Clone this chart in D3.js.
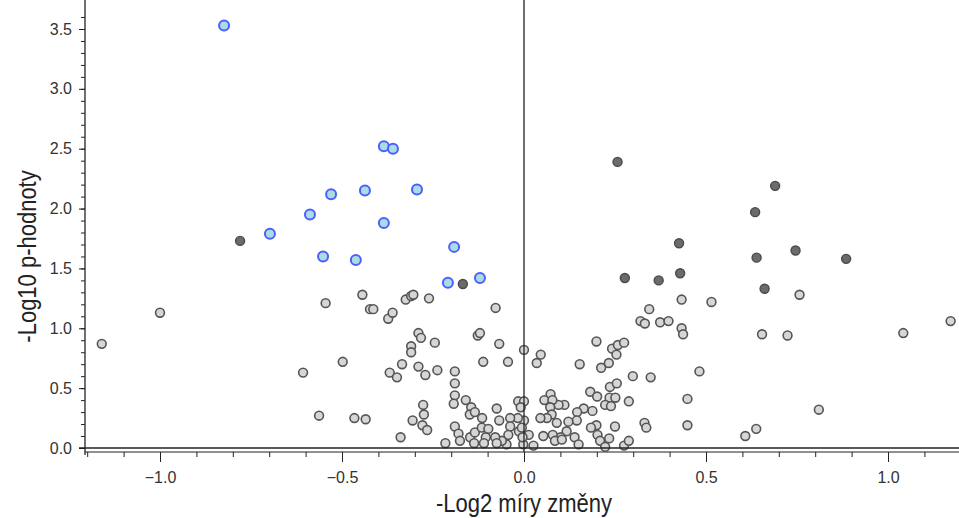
<!DOCTYPE html>
<html>
<head>
<meta charset="utf-8">
<script src="https://cdn.jsdelivr.net/npm/d3@7"></script>
<style>
  body { margin: 0; background: #fff; }
  svg { display: block; font-family: "Liberation Sans", Arial, sans-serif; }
</style>
</head>
<body>
<svg width="959" height="518"></svg>
<script>
// blue = significant, dark = borderline, grey = the rest
var blueX = [-0.824, -0.385, -0.36, -0.53, -0.437, -0.294, -0.588, -0.385, -0.698, -0.192, -0.552, -0.462, -0.209, -0.121];
var blueY = [3.53, 2.52, 2.50, 2.12, 2.15, 2.16, 1.95, 1.88, 1.79, 1.68, 1.60, 1.57, 1.38, 1.42];

var darkX = [-0.780, -0.168, 0.257, 0.690, 0.635, 0.426, 0.639, 0.746, 0.885, 0.277, 0.370, 0.429, 0.661];
var darkY = [1.73, 1.37, 2.39, 2.19, 1.97, 1.71, 1.59, 1.65, 1.58, 1.42, 1.40, 1.46, 1.33];

var greyX = [
  0.433, 0.515, 0.344, 0.32, 0.332, 0.374, 0.397, 0.433, 0.437, 0.757, 0.654, 0.724, 1.042, 1.172,
  -0.068, 0.0, -0.044, 0.046, 0.035, 0.199, 0.153, 0.242, 0.258, 0.275, 0.254, 0.212, 0.233, 0.299,
  0.348, 0.482, 0.236, 0.255, 0.182, 0.201, 0.235, 0.251, 0.223, 0.239, 0.288, 0.449, 0.810, 0.449,
  0.608, 0.638, 0.331, 0.336, 0.25, 0.199, 0.184, 0.202, 0.234, 0.209, 0.223, 0.275, 0.288, 0.139,
  0.150, 0.164, 0.146, 0.145, 0.188, 0.122, 0.117, 0.101, 0.090, 0.111, 0.095, 0.073, 0.056, 0.078,
  0.072, 0.076, 0.063, 0.045, 0.053, 0.079, 0.085, 0.104, 0.026, 0.013, -0.002, 0.0, -0.016, 0.0,
  -0.009, -0.017, -0.038, -0.038, -0.043, -0.014, -0.048, -0.061, -0.068, -0.075,
  -0.444, -0.423, -0.414, -0.373, -0.361, -0.325, -0.310, -0.304, -0.261, -0.078, -0.29, -0.283,
  -0.245, -0.310, -0.310, -0.127, -0.121, -0.498, -0.335, -0.29, -0.369, -0.349, -0.271, -0.238,
  -0.112, -0.190, -0.190, -0.190, -0.193, -0.160, -0.145, -0.149, -0.135, -0.115,
  -0.277, -0.275, -0.306, -0.279, -0.266, -0.466, -0.435, -0.339, -0.216, -0.190, -0.180, -0.176,
  -0.148, -0.135, -0.137, -0.116, -0.098, -0.105, -0.110, -0.079, -0.075, -0.006, -0.004,
  -1.160, -1.0, -0.545, -0.607, -0.563
];
var greyY = [
  1.24, 1.22, 1.16, 1.06, 1.04, 1.05, 1.06, 1.00, 0.95, 1.28, 0.95, 0.94, 0.96, 1.06,
  0.87, 0.82, 0.72, 0.78, 0.71, 0.89, 0.70, 0.83, 0.86, 0.88, 0.78, 0.67, 0.71, 0.60,
  0.59, 0.64, 0.51, 0.54, 0.47, 0.43, 0.42, 0.42, 0.36, 0.35, 0.39, 0.41, 0.32, 0.19,
  0.10, 0.16, 0.21, 0.17, 0.18, 0.19, 0.17, 0.11, 0.08, 0.06, 0.01, 0.02, 0.06, 0.09,
  0.03, 0.33, 0.30, 0.23, 0.31, 0.22, 0.14, 0.09, 0.21, 0.36, 0.36, 0.45, 0.40, 0.40,
  0.34, 0.28, 0.25, 0.25, 0.10, 0.11, 0.06, 0.07, 0.02, 0.11, 0.03, 0.23, 0.39, 0.39,
  0.34, 0.25, 0.25, 0.18, 0.11, 0.14, 0.03, 0.06, 0.23, 0.33,
  1.28, 1.16, 1.16, 1.08, 1.13, 1.24, 1.27, 1.28, 1.25, 1.17, 0.96, 0.92,
  0.88, 0.85, 0.80, 0.94, 0.96, 0.72, 0.70, 0.68, 0.63, 0.59, 0.61, 0.65,
  0.72, 0.64, 0.54, 0.44, 0.37, 0.40, 0.34, 0.28, 0.30, 0.25,
  0.36, 0.28, 0.23, 0.19, 0.15, 0.25, 0.24, 0.09, 0.04, 0.18, 0.12, 0.06,
  0.09, 0.13, 0.04, 0.17, 0.16, 0.09, 0.04, 0.09, 0.04, 0.17, 0.09,
  0.87, 1.13, 1.21, 0.63, 0.27
];

var xMajor = [-1.0, -0.5, 0.0, 0.5, 1.0];
var yMajor = [0.0, 0.5, 1.0, 1.5, 2.0, 2.5, 3.0, 3.5];

var svg = d3.select("svg"),
    left = 85, right = 959, top = 17, axisY = 452;

// scales: -1..1 spans 160..888, 0..3.5 spans 448..29
var x = d3.scaleLinear().domain([-1, 1]).range([160, 888]);
var y = d3.scaleLinear().domain([0, 3.5]).range([448, 29]);

var xMinor = d3.range(-12, 13).map(function(d) { return d / 10; });
var yMinor = d3.range(0, 37).map(function(d) { return d / 10; });

var fmt = d3.format(".1f");

// x axis: minor then major ticks
svg.append("g")
    .attr("transform", "translate(0," + axisY + ")")
    .call(d3.axisBottom(x).tickValues(xMinor).tickSize(5).tickFormat(""))
    .call(function(g) { g.select(".domain").remove(); });

svg.append("g")
    .attr("class", "xaxis")
    .attr("transform", "translate(0," + axisY + ")")
    .call(d3.axisBottom(x).tickValues(xMajor).tickSize(10).tickPadding(10).tickFormat(fmt))
    .call(function(g) { g.select(".domain").remove(); });

// y axis
svg.append("g")
    .attr("transform", "translate(" + left + ",0)")
    .call(d3.axisLeft(y).tickValues(yMinor).tickSize(4).tickFormat(""))
    .call(function(g) { g.select(".domain").remove(); });

svg.append("g")
    .attr("class", "yaxis")
    .attr("transform", "translate(" + left + ",0)")
    .call(d3.axisLeft(y).tickValues(yMajor).tickSize(6).tickPadding(7).tickFormat(fmt))
    .call(function(g) { g.select(".domain").remove(); });

svg.selectAll(".tick line").attr("stroke", "#222");
svg.selectAll(".tick text")
    .attr("font-size", 16)
    .attr("font-family", "'Liberation Sans', Arial, sans-serif")
    .attr("fill", "#333");

// axis lines
svg.append("line")
    .attr("x1", left).attr("x2", right)
    .attr("y1", axisY).attr("y2", axisY)
    .attr("stroke", "#222");
svg.append("line")
    .attr("x1", left).attr("x2", left)
    .attr("y1", top).attr("y2", axisY + 3)
    .attr("stroke", "#222").attr("stroke-width", 1.3);

// points
function dots(xs, ys, fill, stroke, r, sw) {
  svg.append("g").selectAll("circle")
    .data(xs.map(function(d, i) { return [d, ys[i]]; }))
    .enter().append("circle")
      .attr("cx", function(d) { return x(d[0]); })
      .attr("cy", function(d) { return y(d[1]); })
      .attr("r", r)
      .attr("fill", fill)
      .attr("stroke", stroke)
      .attr("stroke-width", sw);
}
dots(greyX, greyY, "#d6d6d6", "#555", 4.4, 1.6);
dots(darkX, darkY, "#6b6b6b", "#4a4a4a", 4.5, 1.4);
dots(blueX, blueY, "#a9dde6", "#4f5cff", 5, 2);

// zero lines on top
svg.append("line")
    .attr("x1", left - 6).attr("x2", right)
    .attr("y1", y(0)).attr("y2", y(0))
    .attr("stroke", "#222").attr("stroke-width", 1.3);
svg.append("line")
    .attr("x1", x(0)).attr("x2", x(0))
    .attr("y1", top).attr("y2", axisY)
    .attr("stroke", "#222").attr("stroke-width", 1.3);

// titles
svg.append("text")
    .attr("transform", "translate(" + x(0) + ",512) scale(0.88,1)")
    .attr("text-anchor", "middle")
    .attr("font-size", 25)
    .attr("fill", "#222")
    .text("-Log2 míry změny");

svg.append("text")
    .attr("transform", "translate(36," + y(1.6) + ") rotate(-90) scale(0.88,1)")
    .attr("text-anchor", "middle")
    .attr("font-size", 25)
    .attr("fill", "#222")
    .text("-Log10 p-hodnoty");
</script>
</body>
</html>
